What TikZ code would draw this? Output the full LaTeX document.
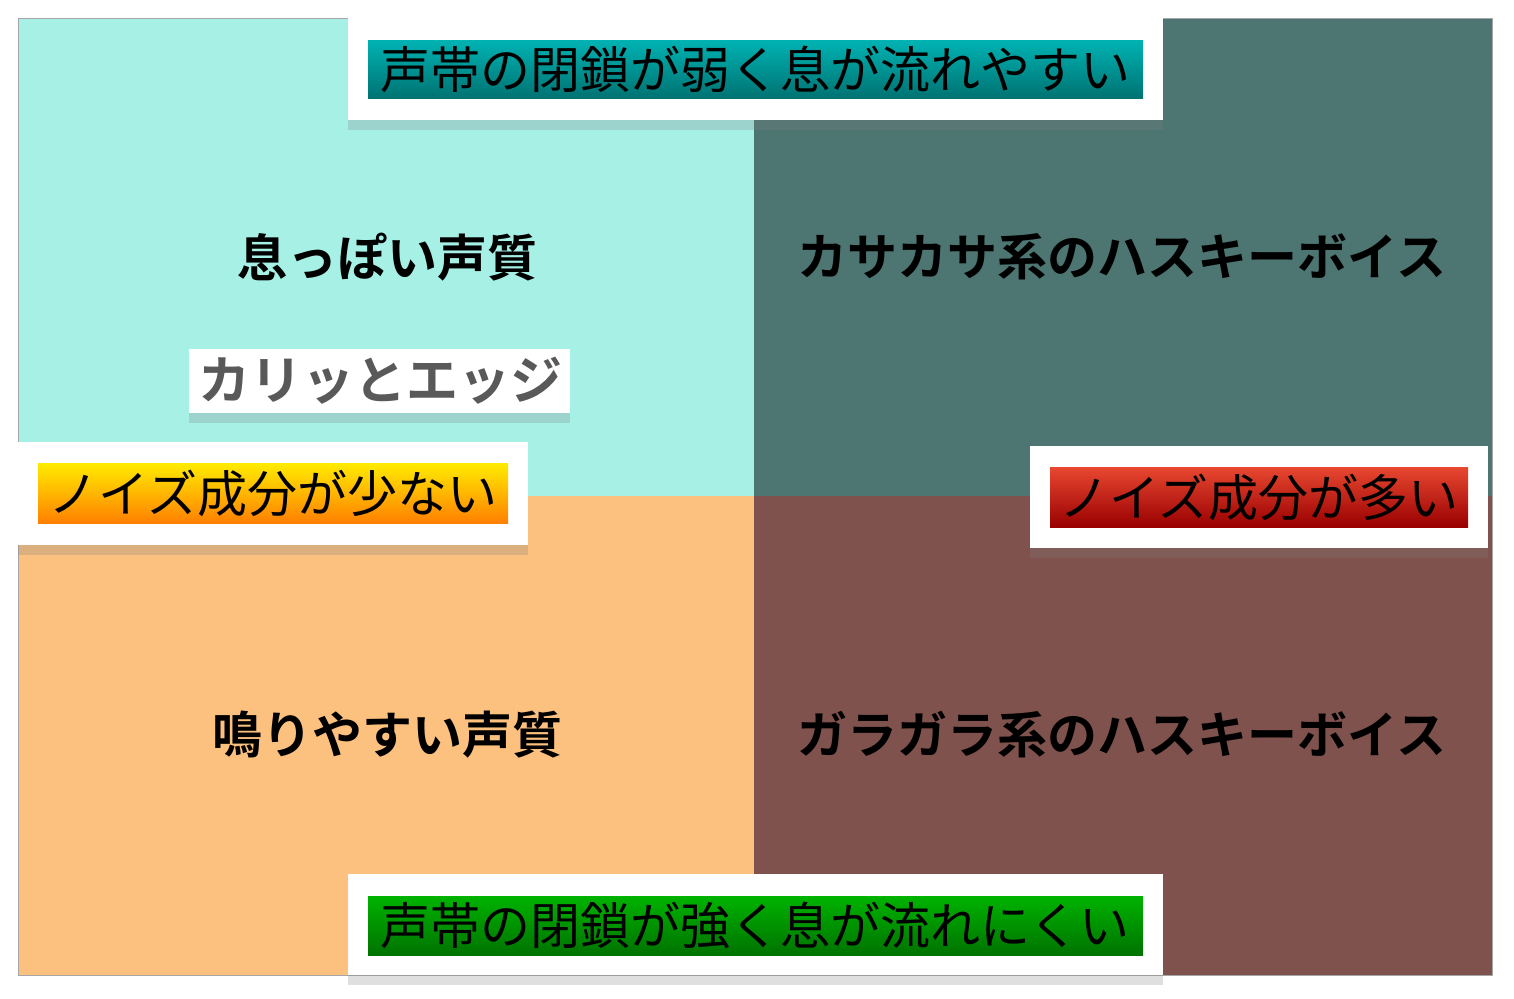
\documentclass[tikz,border=0pt]{standalone}
\usepackage{fontspec}
\setmainfont{Noto Sans CJK JP}
\newfontfamily\jpb{Noto Sans CJK JP Bold}
\usetikzlibrary{shadows}
\definecolor{qtl}{HTML}{A6F0E6}
\definecolor{qtr}{HTML}{4D7572}
\definecolor{qbl}{HTML}{FCC07F}
\definecolor{qbr}{HTML}{80524D}
\tikzset{
 wbox/.style={fill=white,drop shadow={shadow xshift=0pt,shadow yshift=-5pt,opacity=0.25}},
 qtext/.style={font=\jpb\fontsize{25}{28}\selectfont,text=black},
 ltext/.style={font=\fontsize{25}{28}\selectfont,text=black},
}
\begin{document}
\begin{tikzpicture}[x=0.5pt,y=-0.5pt]
\useasboundingbox (0,0) rectangle (1514,998);
\fill[white] (0,0) rectangle (1514,998);
\fill[qtl] (18,18) rectangle (754,496);
\fill[qtr] (754,18) rectangle (1492,496);
\fill[qbl] (18,496) rectangle (754,975);
\fill[qbr] (754,496) rectangle (1492,975);
\draw[gray!70,line width=0.5pt] (18,18) rectangle (1492,975);
\node[qtext] (q1) at (387,257) {息っぽい声質};
\node[qtext] (q2) at (1122,257) {カサカサ系のハスキーボイス};
\node[qtext] (q3) at (387,735) {鳴りやすい声質};
\node[qtext] (q4) at (1122,735) {ガラガラ系のハスキーボイス};
% edge box
\fill[wbox] (189,349) rectangle (570,413);
\node[font=\jpb\fontsize{26}{28}\selectfont,text=black!65] (e) at (380,381) {カリッとエッジ};
% top
\fill[wbox] (348,18) rectangle (1163,120);
\shade[top color=teal!60!cyan,bottom color=teal!90!black] (368,40) rectangle (1143,98);
\node[ltext] (t) at (755,69) {声帯の閉鎖が弱く息が流れやすい};
% bottom
\fill[wbox] (348,874) rectangle (1163,975);
\shade[top color=green!70!black,bottom color=green!45!black] (368,896) rectangle (1143,955);
\node[ltext] (b) at (755,925) {声帯の閉鎖が強く息が流れにくい};
% left
\fill[wbox] (18,442) rectangle (528,545);
\shade[top color=yellow!85!orange,bottom color=orange] (38,463) rectangle (508,523);
\node[ltext] (l) at (273,493) {ノイズ成分が少ない};
% right
\fill[wbox] (1030,446) rectangle (1488,548);
\shade[top color=red!60!brown!90,bottom color=red!60!black] (1050,467) rectangle (1468,527);
\node[ltext] (r) at (1259,497) {ノイズ成分が多い};
\end{tikzpicture}
\end{document}
